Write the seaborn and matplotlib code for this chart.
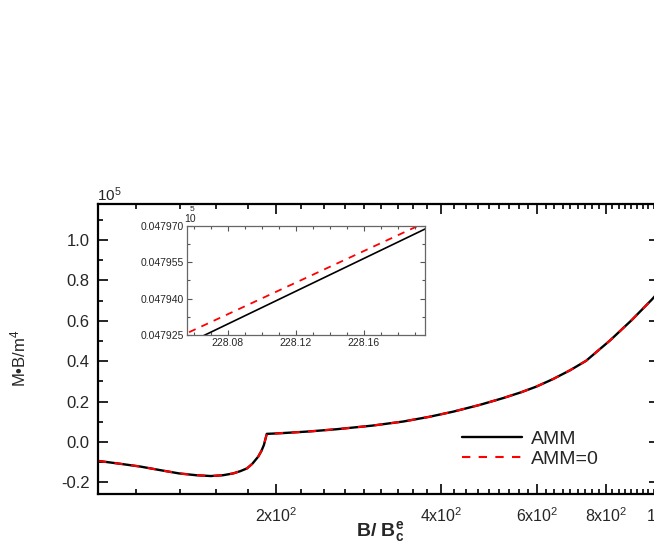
import numpy as np
import pandas as pd
import matplotlib
matplotlib.use("Agg")
import matplotlib.pyplot as plt
from matplotlib.ticker import FixedLocator, FuncFormatter, MultipleLocator, NullFormatter
import seaborn as sns

# ---- data (main panel, M*B/m^4 in units of 1e5) ----
b_field = [94.6, 103, 113, 123, 133, 143, 152, 160, 167, 172, 177, 181, 185.5, 188, 190,
           192.3, 200, 212, 230, 258, 300, 341, 380, 421, 470, 519, 560, 597, 640, 688,
           736, 814, 891, 970, 1000]
m_amm = [-0.094, -0.107, -0.122, -0.140, -0.156, -0.165, -0.169, -0.165, -0.156, -0.145,
         -0.131, -0.108, -0.073, -0.045, -0.015, 0.040, 0.042, 0.046, 0.052, 0.063, 0.081,
         0.101, 0.124, 0.150, 0.183, 0.217, 0.246, 0.274, 0.311, 0.355, 0.402, 0.503,
         0.603, 0.705, 0.745]
m_amm0 = list(m_amm)

# ---- data (inset) ----
inset_b = [228.05, 228.20]
inset_amm = [0.0479194, 0.0479701]
inset_amm0 = [0.0479238, 0.0479727]

x_major = [200, 400, 600, 800, 1000]
x_major_labels = ["2x10$^2$", "4x10$^2$", "6x10$^2$", "8x10$^2$", "10$^3$"]
y_major = [-0.2, 0.0, 0.2, 0.4, 0.6, 0.8, 1.0]
inset_x_major = [228.08, 228.12, 228.16]
inset_y_major = [0.047925, 0.047940, 0.047955, 0.047970]

sns.set_style("ticks")
plt.rcParams["font.family"] = ["Liberation Sans", "DejaVu Sans"]
plt.rcParams["mathtext.fontset"] = "custom"
plt.rcParams["mathtext.rm"] = "Liberation Sans"
plt.rcParams["mathtext.it"] = "Liberation Sans:italic"
plt.rcParams["mathtext.bf"] = "Liberation Sans:bold"
plt.rcParams["axes.unicode_minus"] = False

W, H = 654, 545
fig = plt.figure(figsize=(W / 100, H / 100), dpi=100)

def fx(px):
    return px / W

def fy(py):
    return 1 - py / H

ax = fig.add_axes([fx(98), fy(494), 561 / W, 290 / H])
df = pd.DataFrame({"B": b_field, "AMM": m_amm, "AMM0": m_amm0})
sns.lineplot(data=df, x="B", y="AMM", ax=ax, color="black", lw=1.7, label="AMM", sort=False)
sns.lineplot(data=df, x="B", y="AMM0", ax=ax, color="#ff0000", lw=1.5,
             linestyle=(0, (4, 4)), label="AMM=0", sort=False)
ax.set_xscale("log")
ax.set_xlim(94.6, 1000)
ax.set_ylim(-0.258, 1.179)
ax.xaxis.set_major_locator(FixedLocator(x_major))
ax.set_xticklabels(x_major_labels)
minors = [200 + k * 200 / 9 for k in range(-4, 37) if k % 9 != 0]
ax.xaxis.set_minor_locator(FixedLocator(minors))
ax.xaxis.set_minor_formatter(NullFormatter())
ax.yaxis.set_major_locator(FixedLocator(y_major))
ax.yaxis.set_major_formatter(FuncFormatter(lambda v, p: f"{v:.1f}"))
ax.yaxis.set_minor_locator(MultipleLocator(0.1))
ax.tick_params(which="both", direction="in", top=True, right=True, width=1.2, color="black")
ax.tick_params(which="major", length=7)
ax.tick_params(which="minor", length=3.5)
ax.tick_params(axis="y", labelsize=12, pad=6)
ax.tick_params(axis="x", labelsize=11.5, pad=9)
for s in ax.spines.values():
    s.set_linewidth(1.6)
    s.set_color("black")
ax.set_xlabel("")
ax.set_ylabel("")

leg = ax.legend(loc="upper left", bbox_to_anchor=(fx(462), fy(430)), bbox_transform=fig.transFigure,
                frameon=False, fontsize=14, handlelength=3.1, handletextpad=0.45,
                borderpad=0, borderaxespad=0, labelspacing=0.15)

fig.text(fx(97), fy(201), "10$^5$", fontsize=11, ha="left", va="baseline")
fig.text(fx(18), fy(358), "M\u2022B/m$^4$", fontsize=12, rotation=90, ha="center", va="center")
fig.text(fx(380), fy(531), r"B/ B$_\mathbf{c}^\mathbf{e}$", fontsize=14, fontweight="bold",
         ha="center", va="center")

# ---- inset ----
ins = fig.add_axes([fx(187), fy(335), 238 / W, 109 / H])
di = pd.DataFrame({"B": inset_b, "AMM": inset_amm, "AMM0": inset_amm0})
sns.lineplot(data=di, x="B", y="AMM", ax=ins, color="black", lw=1.2, sort=False)
sns.lineplot(data=di, x="B", y="AMM0", ax=ins, color="#ff0000", lw=1.3,
             linestyle=(0, (4, 3.5)), sort=False)
ins.set_xlim(228.056, 228.196)
ins.set_ylim(0.047925, 0.047970)
ins.xaxis.set_major_locator(FixedLocator(inset_x_major))
ins.xaxis.set_major_formatter(FuncFormatter(lambda v, p: f"{v:.2f}"))
ins.xaxis.set_minor_locator(MultipleLocator(0.01))
ins.yaxis.set_major_locator(FixedLocator(inset_y_major))
ins.yaxis.set_major_formatter(FuncFormatter(lambda v, p: f"{v:.6f}"))
ins.yaxis.set_minor_locator(MultipleLocator(0.0000075))
ins.tick_params(which="both", direction="in", top=True, right=True, width=0.8,
                color="#555555", labelsize=7.5, pad=2)
ins.tick_params(which="major", length=3.5)
ins.tick_params(which="minor", length=2)
for s in ins.spines.values():
    s.set_linewidth(0.9)
    s.set_color("#666666")
ins.set_xlabel("")
ins.set_ylabel("")
fig.text(fx(184), fy(222), "10", fontsize=7.5, ha="left", va="baseline")
fig.text(fx(190), fy(211), "5", fontsize=6, ha="left", va="baseline")

fig.savefig("out.png", dpi=100)
